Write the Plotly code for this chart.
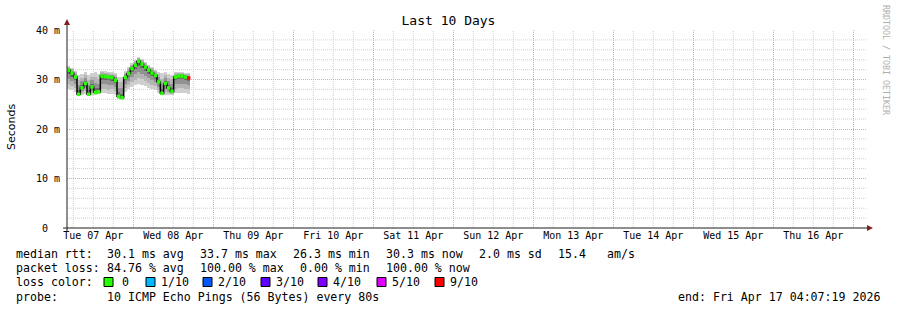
import pandas as pd
import plotly.graph_objects as go

# ---------------- data ----------------
median_ms = [31.9, 31.3, 30.5, 27.0, 28.3, 29.2, 27.0, 28.5, 27.4, 27.5,
             30.7, 30.6, 30.5, 30.4, 29.8, 26.6, 26.3, 30.4, 31.2, 32.2,
             32.9, 33.7, 33.1, 32.5, 31.9, 31.3, 30.8, 29.5, 27.2, 29.2,
             28.3, 27.6, 30.5, 30.7, 30.7, 30.5, 30.3]
min_ms = [28.0, 27.8, 27.5, 26.8, 26.8, 27.0, 26.8, 26.8, 26.9, 27.0,
          27.2, 27.2, 27.0, 27.1, 26.9, 26.0, 26.0, 27.4, 28.0, 28.4,
          28.8, 29.0, 28.9, 28.6, 28.3, 28.0, 27.8, 27.3, 26.8, 26.9,
          26.8, 26.8, 27.2, 27.3, 27.3, 27.2, 27.1]
max_ms = [32.8, 32.4, 31.8, 31.0, 31.2, 31.5, 31.0, 31.4, 31.6, 31.2,
          31.8, 31.7, 31.6, 31.5, 31.3, 30.5, 30.6, 31.8, 32.5, 33.3,
          34.0, 34.6, 34.2, 33.6, 33.0, 32.6, 32.0, 31.6, 31.3, 31.5,
          31.2, 31.0, 31.5, 31.6, 31.5, 31.4, 31.3]
loss_tenths = [0] * 36 + [9]
times = pd.date_range("2026-04-07 04:37:19", periods=len(median_ms), freq="h")

x_start = "2026-04-07 04:07:19"
x_end = "2026-04-17 04:07:19"

y_tickvals = [0, 10, 20, 30, 40]
y_ticktext = ["0\u00a0\u00a0", "10 m", "20 m", "30 m", "40 m"]

loss_labels = ["0", "1/10", "2/10", "3/10", "4/10", "5/10", "9/10"]
loss_colors = ["#26ff00", "#00b8ff", "#0059ff", "#5e00ff", "#7e00ff", "#dd00ff", "#ff0000"]
loss_map = {0: "#26ff00", 1: "#00b8ff", 2: "#0059ff", 3: "#5e00ff", 4: "#7e00ff", 5: "#dd00ff", 9: "#ff0000"}

rtt_stats = ["30.1 ms avg", "33.7 ms max", "26.3 ms min", "30.3 ms now", "2.0 ms sd", "15.4", "am/s"]
loss_stats = ["84.76 % avg", "100.00 % max", "0.00 % min", "100.00 % now"]
probe_text = "10 ICMP Echo Pings (56 Bytes) every 80s"
end_text = "end: Fri Apr 17 04:07:19 2026"

# ---------------- layout geometry ----------------
W, H = 897, 310
L, R, T, B = 67, 30, 30, 82
PW, PH = W - L - R, H - T - B


def X(px):
    return (px - L) / PW


def Y(py):
    return (H - B - py) / PH


MONO = "DejaVu Sans Mono"
GRID = "#d0d0d0"
MGRID = "#ff9a9a"
ARROW = "rgb(128,31,31)"
DOT = "1px,1px"

fig = go.Figure()

# smoke layers (outer -> inner)
shades = [(1.0, "#cfcfcf"), (0.72, "#b4b4b4"), (0.45, "#929292"), (0.2, "#6a6a6a")]
for f, col in shades:
    lo = [m - (m - a) * f for m, a in zip(median_ms, min_ms)]
    hi = [m + (b - m) * f for m, b in zip(median_ms, max_ms)]
    fig.add_trace(go.Bar(x=times, base=lo, y=[h - l for h, l in zip(hi, lo)],
                         width=3600000, marker=dict(color=col, line=dict(width=0)),
                         hoverinfo="skip"))

# median line + loss colored markers
fig.add_trace(go.Scatter(x=times, y=median_ms, mode="lines",
                         line=dict(color="#000000", width=1.5, shape="hvh"),
                         hoverinfo="skip"))
fig.add_trace(go.Scatter(x=times, y=median_ms, mode="markers",
                         marker=dict(symbol="square", size=3.5,
                                     color=[loss_map[v] for v in loss_tenths],
                                     line=dict(width=0)),
                         hoverinfo="skip"))

shapes = []
# minor grid (every 6 hours / every 2 ms), drawn beneath the major grid
minor_x = [t for t in pd.date_range("2026-04-07 06:00", "2026-04-17 00:00", freq="6h") if t.hour != 0]
for t in minor_x:
    shapes.append(dict(type="line", xref="x", yref="paper", x0=t, x1=t, y0=0, y1=1,
                       line=dict(color=GRID, width=1, dash=DOT), layer="below"))
for v in range(2, 40, 2):
    if v % 10:
        shapes.append(dict(type="line", xref="paper", yref="y", x0=0, x1=1, y0=v, y1=v,
                           line=dict(color=GRID, width=1, dash=DOT), layer="below"))
# axes
shapes.append(dict(type="line", xref="paper", yref="paper", x0=X(67), x1=X(67), y0=Y(232), y1=Y(25),
                   line=dict(color="rgb(31,31,31)", width=1), layer="above"))
shapes.append(dict(type="line", xref="paper", yref="paper", x0=X(63), x1=X(868), y0=Y(228), y1=Y(228),
                   line=dict(color="rgb(31,31,31)", width=1), layer="above"))
up = f"M {X(64)},{Y(25)} L {X(70)},{Y(25)} L {X(67)},{Y(19)} Z"
right = f"M {X(867)},{Y(225)} L {X(867)},{Y(231)} L {X(873)},{Y(228)} Z"
for p in (up, right):
    shapes.append(dict(type="path", xref="paper", yref="paper", path=p,
                       fillcolor=ARROW, line=dict(color=ARROW, width=0), layer="above"))

annotations = []


def txt(px, py, s, anchor="left", size=11.6, font=MONO, color="#000000", angle=0):
    annotations.append(dict(x=X(px), y=Y(py), xref="paper", yref="paper", text=s,
                            showarrow=False, xanchor=anchor, yanchor="middle",
                            borderpad=0, borderwidth=0, textangle=angle,
                            font=dict(family=font, size=size, color=color)))


# legend block
txt(16, 254, "median rtt:")
for px, s in zip([107.3, 200, 292.7, 386, 479.3, 558.3, 607.3], rtt_stats):
    txt(px, 254, s)
txt(16, 268, "packet loss:")
for px, s in zip([107.3, 200, 300, 386], loss_stats):
    txt(px, 268, s)
txt(16, 282, "loss color:")
box_x = [104, 146, 203, 261, 318, 377, 435]
for bx, lab, col in zip(box_x, loss_labels, loss_colors):
    shapes.append(dict(type="rect", xref="paper", yref="paper",
                       x0=X(bx), x1=X(bx + 9), y0=Y(286.5), y1=Y(277.5),
                       fillcolor=col, line=dict(color="#000000", width=1)))
    txt(bx + 15 + (3 if lab == "0" else 0), 282, lab)
txt(16, 297, "probe:")
txt(107.3, 297, probe_text)
txt(880, 297, end_text, anchor="right")

# axis title and watermark
txt(11, 127, "Seconds", anchor="center", size=11, font="DejaVu Sans", angle=-90)
txt(886, 60, "RRDTOOL / TOBI OETIKER", anchor="center", size=8.3, color="rgb(175,175,175)", angle=90)

fig.update_layout(
    width=W, height=H,
    margin=dict(l=L, r=R, t=T, b=B),
    paper_bgcolor="#ffffff", plot_bgcolor="#ffffff",
    showlegend=False, barmode="overlay", bargap=0,
    title=dict(text="Last 10 Days", x=448.5 / W, xref="container", xanchor="center",
               y=1 - 20 / H, yref="container", yanchor="middle",
               font=dict(family=MONO, size=13, color="#000000")),
    font=dict(family=MONO, size=10, color="#000000"),
    xaxis=dict(type="date", range=[x_start, x_end], tick0="2026-04-07", dtick=86400000,
               ticklabelmode="period", tickformat="%a %d %b", ticks="",
               showgrid=True, gridcolor=MGRID, griddash=DOT, gridwidth=1,
               showline=False, zeroline=False,
               tickfont=dict(family=MONO, size=10, color="#000000")),
    yaxis=dict(range=[0, 40], tickmode="array", tickvals=y_tickvals, ticktext=y_ticktext,
               ticks="", showgrid=True, gridcolor=MGRID, griddash=DOT, gridwidth=1,
               showline=False, zeroline=False, ticklabelstandoff=6,
               tickfont=dict(family=MONO, size=10, color="#000000")),
    shapes=shapes, annotations=annotations,
)

fig.write_html("out.html")
